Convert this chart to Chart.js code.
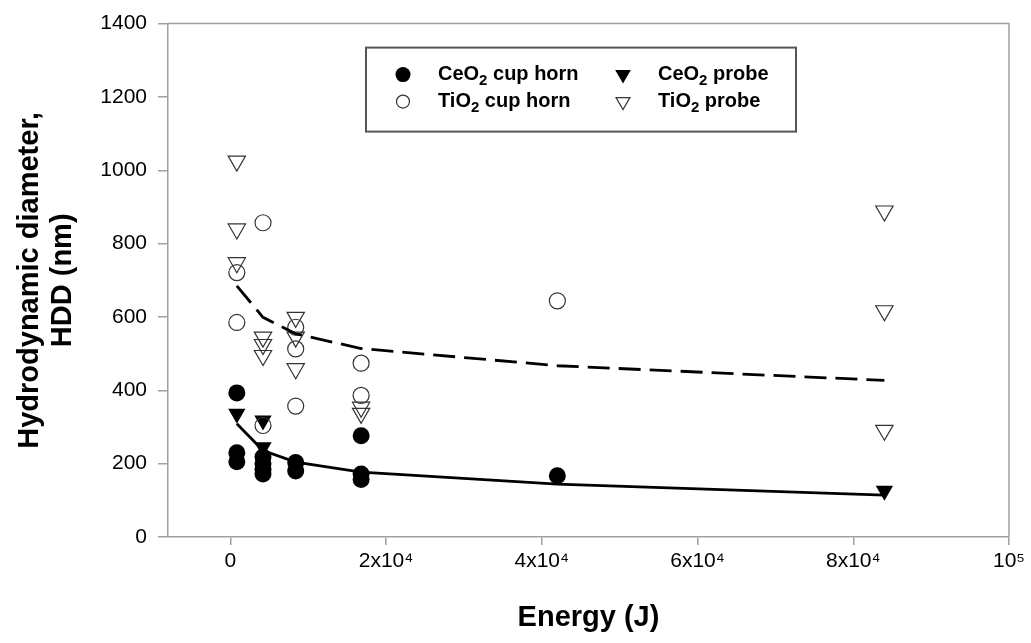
<!DOCTYPE html>
<html>
<head>
<meta charset="utf-8">
<title>HDD vs energía</title>
<script src="https://cdn.jsdelivr.net/npm/chart.js@4.4.1/dist/chart.umd.min.js"></script>
<style>
  html, body { margin: 0; padding: 0; background: #fff; }
  #wrap { width: 1031px; height: 643px; }
</style>
</head>
<body>
<div id="wrap"><canvas id="chartHdd" width="1031" height="643"></canvas></div>
<script>
// ─── Datos ────────────────────────────────────────────────────
const ENERGY_TICKS       = [0, 20000, 40000, 60000, 80000, 100000];
const ENERGY_TICK_LABELS = ['0', '2x10⁴', '4x10⁴', '6x10⁴', '8x10⁴', '10⁵'];
const HDD_TICKS          = [0, 200, 400, 600, 800, 1000, 1200, 1400];

const CEO2_CUP_X = [840, 840, 840, 4200, 4200, 4200, 4200, 8400, 8400, 16800, 16800, 16800, 42000];
const CEO2_CUP_Y = [393, 230, 205, 218, 200, 185, 172, 203, 180, 276, 172, 157, 167];

const CEO2_PROBE_X = [840, 4200, 4200, 84000];
const CEO2_PROBE_Y = [336, 318, 245, 126];

const TIO2_CUP_X = [840, 840, 4200, 4200, 8400, 8400, 8400, 16800, 16800, 42000];
const TIO2_CUP_Y = [721, 585, 857, 304, 572, 513, 357, 474, 386, 644];

const TIO2_PROBE_X = [840, 840, 840, 4200, 4200, 4200, 8400, 8400, 8400, 16800, 16800, 84000, 84000, 84000];
const TIO2_PROBE_Y = [1025, 840, 748, 545, 525, 495, 599, 545, 459, 354, 337, 889, 617, 291];

const FIT_X      = [840, 4200, 8400, 16800, 42000, 84000];
const CEO2_FIT_Y = [309, 236, 204, 177, 144, 114];
const TIO2_FIT_Y = [685, 599, 554, 514, 467, 427];

// ─── Estilos ──────────────────────────────────────────────────
const FONT   = "'Liberation Sans', Arial, Helvetica, sans-serif";
const FRAME  = '#a0a0a0';
const OPEN   = '#333';

const pts = (xs, ys) => xs.map((x, i) => ({ x, y: ys[i] }));

// Marco superior / derecho del área de trazado
const frameBox = {
  id: 'frameBox',
  beforeDatasetsDraw(chart) {
    const { ctx, chartArea: a } = chart;
    ctx.save();
    ctx.strokeStyle = FRAME;
    ctx.lineWidth = 1.5;
    ctx.beginPath();
    ctx.moveTo(a.left, a.top);
    ctx.lineTo(a.right, a.top);
    ctx.lineTo(a.right, a.bottom);
    ctx.stroke();
    ctx.restore();
  }
};

// Leyenda dentro del gráfico (con subíndice en la fórmula)
function drawMarker(ctx, style, filled, x, y, r) {
  ctx.beginPath();
  if (style === 'circle') {
    ctx.arc(x, y, r, 0, Math.PI * 2);
  } else {
    ctx.moveTo(x - r * 0.87, y - r * 0.5);
    ctx.lineTo(x + r * 0.87, y - r * 0.5);
    ctx.lineTo(x, y + r);
    ctx.closePath();
  }
  if (filled) { ctx.fillStyle = '#000'; ctx.fill(); }
  else { ctx.strokeStyle = OPEN; ctx.lineWidth = 1.2; ctx.stroke(); }
}

function drawFormula(ctx, text, x, y) {
  const m = text.match(/^(\D+)(\d)(.*)$/);
  ctx.textBaseline = 'middle';
  ctx.textAlign = 'left';
  ctx.fillStyle = '#000';
  ctx.font = `bold 20px ${FONT}`;
  ctx.fillText(m[1], x, y);
  x += ctx.measureText(m[1]).width;
  ctx.font = `bold 15px ${FONT}`;
  ctx.fillText(m[2], x, y + 6);
  x += ctx.measureText(m[2]).width;
  ctx.font = `bold 20px ${FONT}`;
  ctx.fillText(m[3], x, y);
}

const innerLegend = {
  id: 'innerLegend',
  afterDraw(chart) {
    const { ctx, chartArea: a } = chart;
    const left = a.left + 198, top = a.top + 24, w = 430, h = 84;
    ctx.save();
    ctx.fillStyle = '#fff';
    ctx.fillRect(left, top, w, h);
    ctx.strokeStyle = '#555';
    ctx.lineWidth = 2;
    ctx.strokeRect(left, top, w, h);
    const items = chart.data.datasets.filter(d => d.legend);
    items.forEach(d => {
      const col = d.legend.col, row = d.legend.row;
      const mx = left + 37 + col * 220;
      const my = top + 27 + row * 27;
      const r = d.pointStyle === 'circle' ? (d.legend.filled ? 7.5 : 6.5) : (d.legend.filled ? 9 : 8);
      drawMarker(ctx, d.pointStyle, d.legend.filled, mx, my, r);
      drawFormula(ctx, d.label, mx + 35, my);
    });
    ctx.restore();
  }
};

new Chart(document.getElementById('chartHdd'), {
  type: 'scatter',
  data: {
    datasets: [
      {
        label: 'CeO2 fit', type: 'line', data: pts(FIT_X, CEO2_FIT_Y),
        borderColor: '#000', borderWidth: 2.8, pointRadius: 0, fill: false, tension: 0,
      },
      {
        label: 'TiO2 fit', type: 'line', data: pts(FIT_X, TIO2_FIT_Y),
        borderColor: '#000', borderWidth: 2.8, borderDash: [22, 9], pointRadius: 0, fill: false, tension: 0,
      },
      {
        label: 'CeO2 cup horn', data: pts(CEO2_CUP_X, CEO2_CUP_Y),
        pointStyle: 'circle', pointRadius: 8.5, backgroundColor: '#000', borderColor: '#000', borderWidth: 0,
        legend: { col: 0, row: 0, filled: true },
      },
      {
        label: 'TiO2 cup horn', data: pts(TIO2_CUP_X, TIO2_CUP_Y),
        pointStyle: 'circle', pointRadius: 8, backgroundColor: 'rgba(0,0,0,0)', borderColor: OPEN, borderWidth: 1.2,
        legend: { col: 0, row: 1, filled: false },
      },
      {
        label: 'CeO2 probe', data: pts(CEO2_PROBE_X, CEO2_PROBE_Y),
        pointStyle: 'triangle', rotation: 180, pointRadius: 10, backgroundColor: '#000', borderColor: '#000', borderWidth: 0,
        legend: { col: 1, row: 0, filled: true },
      },
      {
        label: 'TiO2 probe', data: pts(TIO2_PROBE_X, TIO2_PROBE_Y),
        pointStyle: 'triangle', rotation: 180, pointRadius: 10, backgroundColor: 'rgba(0,0,0,0)', borderColor: OPEN, borderWidth: 1.2,
        legend: { col: 1, row: 1, filled: false },
      },
    ]
  },
  options: {
    responsive: false,
    animation: false,
    events: [],
    layout: { padding: { left: 0, top: 22, right: 22, bottom: 0 } },
    plugins: { legend: { display: false }, tooltip: { enabled: false } },
    scales: {
      x: {
        type: 'linear', min: -8000, max: 100000,
        afterFit: s => { s.height = 106; },
        afterBuildTicks: s => { s.ticks = ENERGY_TICKS.map(v => ({ value: v })); },
        ticks: {
          autoSkip: false, maxRotation: 0, padding: 4, color: '#000',
          font: { family: FONT, size: 21 },
          callback: v => ENERGY_TICK_LABELS[ENERGY_TICKS.indexOf(v)],
        },
        grid: { display: true, drawOnChartArea: false, drawTicks: true, tickLength: 8, color: FRAME, lineWidth: 1.5 },
        border: { display: true, color: FRAME, width: 1.5 },
        title: {
          display: true, text: 'Energy (J)', color: '#000',
          font: { family: FONT, size: 29, weight: 'bold' }, padding: { top: 0, bottom: 8 },
        },
      },
      y: {
        type: 'linear', min: 0, max: 1400,
        afterFit: s => { s.width = 168; },
        afterBuildTicks: s => { s.ticks = HDD_TICKS.map(v => ({ value: v })); },
        ticks: {
          autoSkip: false, padding: 11, color: '#000',
          font: { family: FONT, size: 21 },
          callback: v => String(v),
        },
        grid: { display: true, drawOnChartArea: false, drawTicks: true, tickLength: 10, color: FRAME, lineWidth: 1.5 },
        border: { display: true, color: FRAME, width: 1.5 },
        title: {
          display: true, text: ['Hydrodynamic diameter,', 'HDD (nm)'], color: '#000',
          font: { family: FONT, size: 29, weight: 'bold', lineHeight: 1.12 }, padding: { top: 14, bottom: 0 },
        },
      },
    },
  },
  plugins: [frameBox, innerLegend],
});
</script>
</body>
</html>
